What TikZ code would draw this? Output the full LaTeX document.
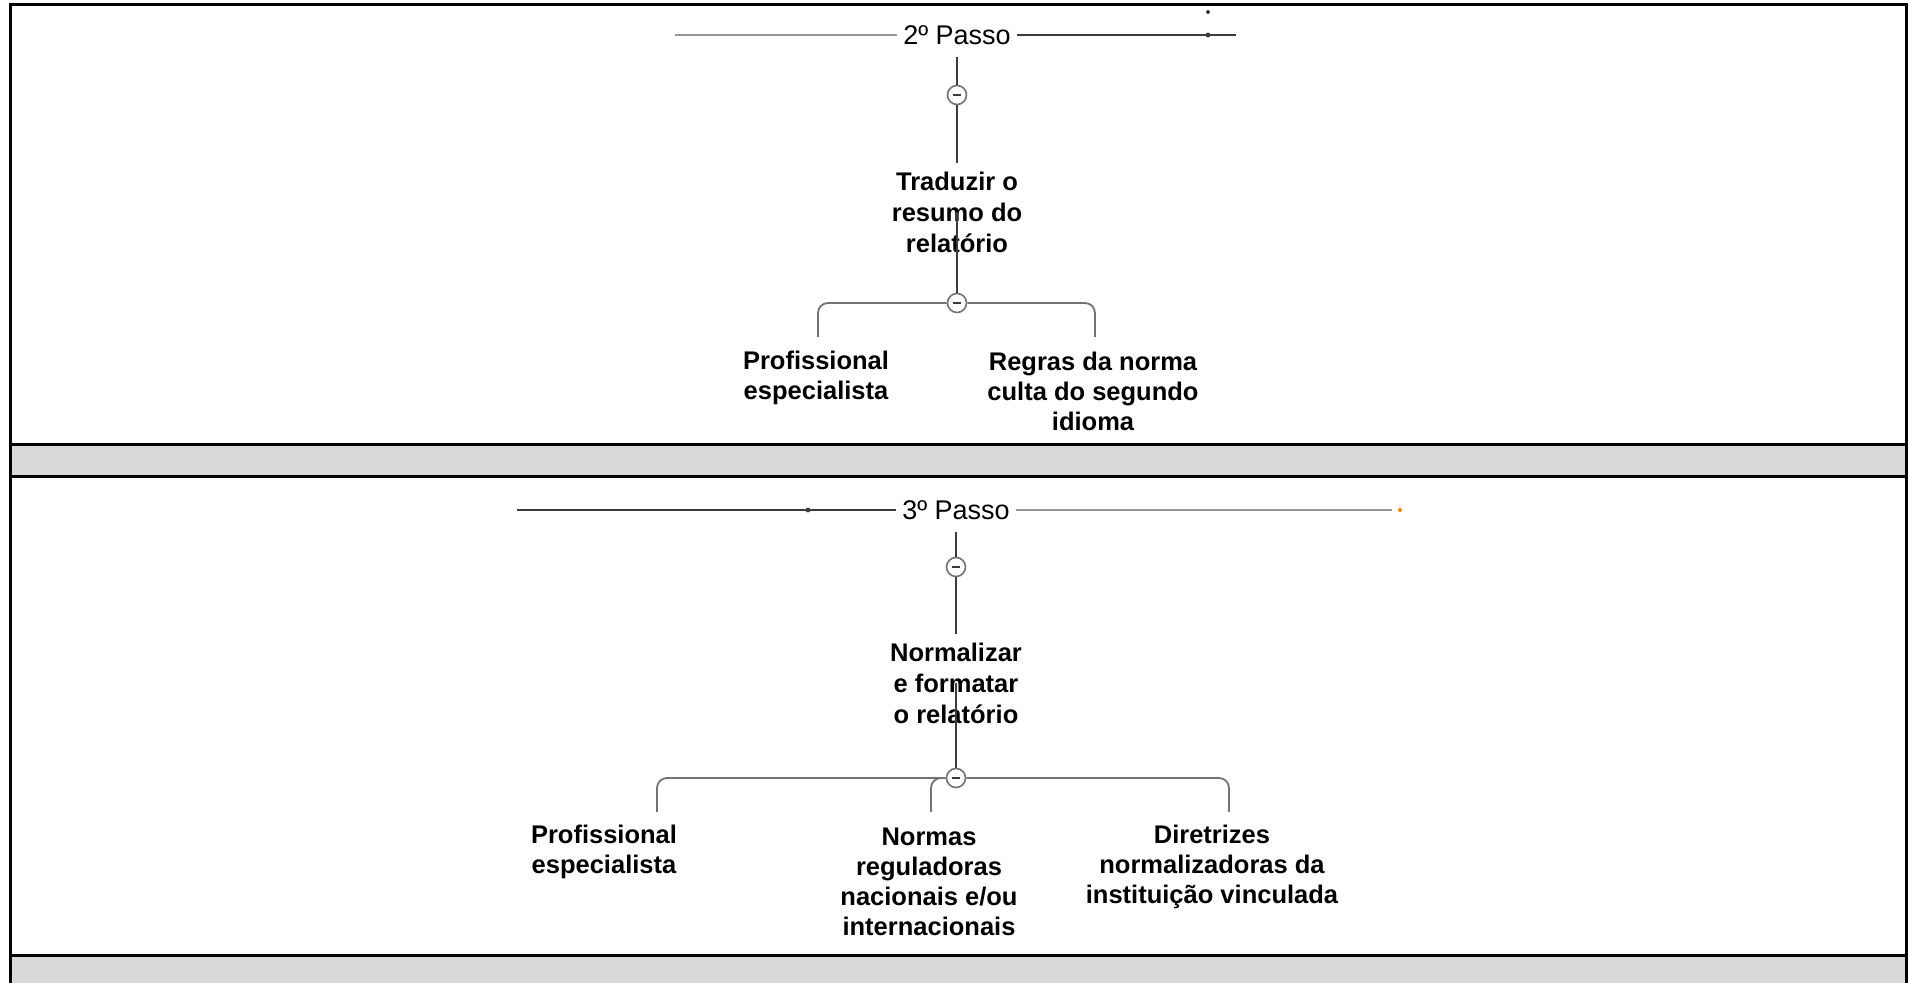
\documentclass[tikz,border=0pt]{standalone}
\usepackage{fontspec}
\setmainfont{Liberation Sans}
\usetikzlibrary{positioning,calc}
\definecolor{faixa}{RGB}{217,217,217}
\definecolor{haste}{RGB}{60,60,60}
\definecolor{ramo}{RGB}{115,115,115}
\definecolor{claro}{RGB}{150,150,150}

\begin{document}
\begin{tikzpicture}[x=0.5pt, y=-0.5pt,
        passo/.style={font=\fontsize{13.5}{16}\selectfont, inner xsep=3pt, inner ysep=6pt},
        tarefa/.style={font=\bfseries\fontsize{12.75}{15.5}\selectfont, align=center, inner xsep=0pt, inner ysep=4pt},
        recurso/.style={font=\bfseries\fontsize{12.75}{15}\selectfont, align=center, inner sep=0pt},
        toggle/.style={circle, draw=ramo, fill=white, minimum size=9.5pt, inner sep=0pt, line width=0.8pt,
            path picture={\draw[line width=0.8pt, haste] ([xshift=-2pt]path picture bounding box.center) -- ([xshift=2pt]path picture bounding box.center);}},
        tronco/.style={draw=haste, line width=0.9pt},
        ramal/.style={draw=ramo, line width=0.9pt, rounded corners=5pt}]
    \useasboundingbox (0,0) rectangle (1908,983);

    % quadro
    \fill[faixa] (10,445) rectangle (1906,477);
    \fill[faixa] (10,955) rectangle (1906,983);
    \draw[line width=1.5pt] (10,983) -- (10,5) -- (1906,5) -- (1906,983);
    \draw[line width=1.5pt] (10,445) -- (1906,445);
    \draw[line width=1.5pt] (10,477) -- (1906,477);
    \draw[line width=1.5pt] (10,955) -- (1906,955);

    % 2o passo
    \node [passo] (p2) at (957,35) {2º Passo};
    \coordinate (l2a) at (675,35);
    \coordinate (l2b) at (1236,35);
    \draw [claro, line width=0.9pt] (l2a) -- (p2.west);
    \draw [haste, line width=0.9pt] (p2.east) -- (l2b);
    \fill [haste] (1208,12) circle (1pt) (1208,35) circle (1.2pt);

    \node [toggle] (t2a) at (957,95) {};
    \node [tarefa] (trad) at (957,212) {Traduzir o\\resumo do\\relatório};
    \node [toggle] (t2b) at (957,303) {};
    \coordinate (d2a) at (818,337);
    \coordinate (d2b) at (1095,337);
    \node [recurso] (prof2) at (816,378) {Profissional\\especialista};
    \node [recurso] (regr) at (1093,391) {Regras da norma\\culta do segundo\\idioma};

    \path [tronco] (p2.south) -- (t2a) -- (trad.north);
    \path [tronco] (trad.center) -- (t2b);
    \path [ramal] (t2b.west) -| (d2a);
    \path [ramal] (t2b.east) -| (d2b);

    % 3o passo
    \node [passo] (p3) at (956,510) {3º Passo};
    \coordinate (l3a) at (517,510);
    \coordinate (l3b) at (1392,510);
    \draw [haste, line width=0.9pt] (l3a) -- (p3.west);
    \draw [claro, line width=0.9pt] (p3.east) -- (l3b);
    \fill [haste] (808,510) circle (1.2pt);
    \fill [orange] (1400,510) circle (1pt);

    \node [toggle] (t3a) at (956,567) {};
    \node [tarefa] (norm) at (956,683) {Normalizar\\e formatar\\o relatório};
    \node [toggle] (t3b) at (956,778) {};
    \coordinate (d3a) at (657,812);
    \coordinate (d3b) at (931,812);
    \coordinate (d3c) at (1229,812);
    \node [recurso] (prof3) at (604,852) {Profissional\\especialista};
    \node [recurso] (nbr) at (929,882) {Normas\\reguladoras\\nacionais e/ou\\internacionais};
    \node [recurso] (dir) at (1212,867) {Diretrizes\\normalizadoras da\\instituição vinculada};

    \path [tronco] (p3.south) -- (t3a) -- (norm.north);
    \path [tronco] (norm.center) -- (t3b);
    \path [ramal] (t3b.west) -| (d3a);
    \path [ramal] (t3b.west) -| (d3b);
    \path [ramal] (t3b.east) -| (d3c);
\end{tikzpicture}
\end{document}
